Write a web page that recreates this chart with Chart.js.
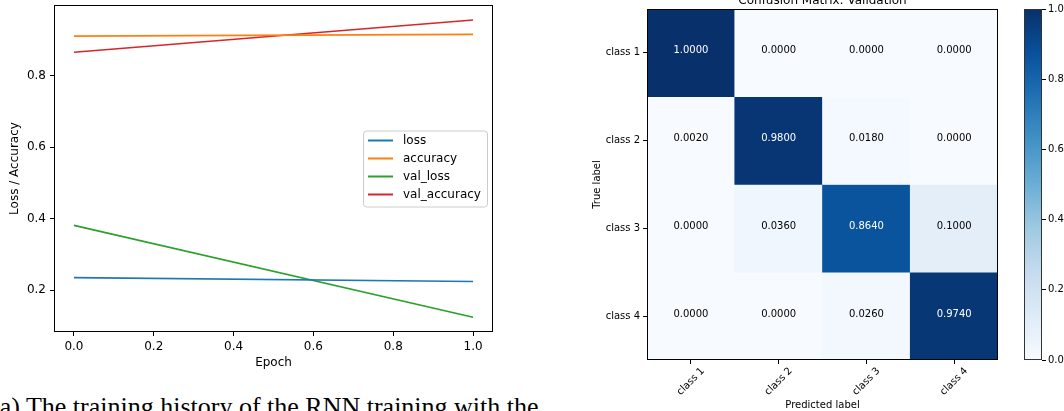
<!DOCTYPE html>
<html>
<head>
<meta charset="utf-8">
<script src="https://cdn.jsdelivr.net/npm/chart.js@4.4.0/dist/chart.umd.min.js"></script>
<style>
body { margin: 0; background: #fff; width: 1064px; height: 411px; overflow: hidden; position: relative; }
canvas { position: absolute; top: 0; }
#caption { position: absolute; left: -9px; top: 392px; font-family: "Liberation Serif", serif; font-size: 26px; color: #000; white-space: nowrap; }
</style>
</head>
<body>
<canvas id="hist" width="520" height="380" style="left:0px"></canvas>
<canvas id="cm" width="440" height="411" style="left:570px"></canvas>
<canvas id="cbar" width="54" height="411" style="left:1010px"></canvas>
<div id="caption">(a) The training history of the RNN training with the</div>
<script>
// training history
const epochs = [0, 1];
const loss = [0.235, 0.224];
const accuracy = [0.910, 0.915];
const valLoss = [0.381, 0.124];
const valAccuracy = [0.865, 0.955];
const epochTicks = [0, 0.2, 0.4, 0.6, 0.8, 1.0];
const histTicks = [0.2, 0.4, 0.6, 0.8];

// confusion matrix (rows = true label, cols = predicted)
const classes = ['class 1', 'class 2', 'class 3', 'class 4'];
const cmRow1 = [1.0000, 0.0000, 0.0000, 0.0000];
const cmRow2 = [0.0020, 0.9800, 0.0180, 0.0000];
const cmRow3 = [0.0000, 0.0360, 0.8640, 0.1000];
const cmRow4 = [0.0000, 0.0000, 0.0260, 0.9740];
const cmRows = [cmRow1, cmRow2, cmRow3, cmRow4];
const cbarTicks = [0, 0.2, 0.4, 0.6, 0.8, 1.0];

Chart.defaults.font.family = 'DejaVu Sans';
Chart.defaults.color = '#000';
Chart.defaults.animation = false;

// matplotlib "Blues"
const bluesStops = ['#f7fbff', '#deebf7', '#c6dbef', '#9ecae1', '#6baed6', '#4292c6', '#2171b5', '#08519c', '#08306b'];
function hexRgb(h) {
  return [1, 3, 5].map(i => parseInt(h.substr(i, 2), 16));
}
function blues(v) {
  const t = Math.min(Math.max(v, 0), 1) * (bluesStops.length - 1);
  const i = Math.min(Math.floor(t), bluesStops.length - 2);
  const f = t - i;
  const a = hexRgb(bluesStops[i]), b = hexRgb(bluesStops[i + 1]);
  const c = a.map((x, k) => Math.round(x + (b[k] - x) * f));
  return 'rgb(' + c.join(',') + ')';
}

function fixTicks(list) {
  return s => { s.ticks = list.map(v => ({ value: v })); };
}
function fixSize(prop, size) {
  return s => {
    s[prop] = size;
    s.paddingTop = 0; s.paddingBottom = 0; s.paddingLeft = 0; s.paddingRight = 0;
  };
}

const frame = {
  id: 'frame',
  afterDraw(chart, args, opts) {
    const { ctx, chartArea: a } = chart;
    ctx.save();
    ctx.strokeStyle = opts.color || '#000';
    ctx.lineWidth = 1;
    ctx.strokeRect(Math.round(a.left) + 0.5, Math.round(a.top) + 0.5,
      Math.round(a.right - a.left) - 1, Math.round(a.bottom - a.top) - 1);
    ctx.restore();
  }
};

// legend box in the middle right of the plot
const legendBox = {
  id: 'legendBox',
  afterDatasetsDraw(chart) {
    const { ctx, chartArea: a } = chart;
    const sets = chart.data.datasets;
    const w = 124, rowH = 18, h = sets.length * rowH + 4;
    const x0 = a.right - 6 - w;
    const y0 = (a.top + a.bottom) / 2 - h / 2;
    ctx.save();
    ctx.beginPath();
    if (ctx.roundRect) ctx.roundRect(x0 + 0.5, y0 + 0.5, w, h, 3);
    else ctx.rect(x0 + 0.5, y0 + 0.5, w, h);
    ctx.fillStyle = 'rgba(255,255,255,0.8)';
    ctx.fill();
    ctx.strokeStyle = '#cccccc';
    ctx.lineWidth = 1;
    ctx.stroke();
    ctx.font = '12px "DejaVu Sans"';
    ctx.textBaseline = 'middle';
    sets.forEach((ds, i) => {
      const y = y0 + 10 + i * rowH;
      ctx.strokeStyle = ds.borderColor;
      ctx.lineWidth = 2;
      ctx.beginPath();
      ctx.moveTo(x0 + 5, y);
      ctx.lineTo(x0 + 30, y);
      ctx.stroke();
      ctx.fillStyle = '#000';
      ctx.fillText(ds.label, x0 + 40, y);
    });
    ctx.restore();
  }
};

function series(label, values, color) {
  return {
    label: label,
    data: epochs.map((e, i) => ({ x: e, y: values[i] })),
    borderColor: color,
    backgroundColor: color,
    borderWidth: 1.6,
    pointRadius: 0,
    tension: 0
  };
}

new Chart(document.getElementById('hist'), {
  type: 'line',
  data: {
    datasets: [
      series('loss', loss, '#1f77b4'),
      series('accuracy', accuracy, '#ff7f0e'),
      series('val_loss', valLoss, '#2ca02c'),
      series('val_accuracy', valAccuracy, '#d62728')
    ]
  },
  options: {
    responsive: false,
    layout: { padding: { top: 5, right: 27, left: 0, bottom: 0 } },
    plugins: { legend: { display: false }, tooltip: { enabled: false } },
    scales: {
      x: {
        type: 'linear', min: -0.05, max: 1.05,
        afterBuildTicks: fixTicks(epochTicks),
        afterFit: fixSize('height', 48),
        ticks: { font: { size: 12 }, padding: 4, callback: v => v.toFixed(1) },
        grid: { drawOnChartArea: false, drawTicks: true, tickLength: 4, color: '#000' },
        border: { display: false },
        title: { display: true, text: 'Epoch', font: { size: 12 }, padding: { top: 0, bottom: 10 } }
      },
      y: {
        type: 'linear', min: 0.083, max: 0.997,
        afterBuildTicks: fixTicks(histTicks),
        afterFit: fixSize('width', 54),
        ticks: { font: { size: 12 }, padding: 4, callback: v => v.toFixed(1) },
        grid: { drawOnChartArea: false, drawTicks: true, tickLength: 4, color: '#000' },
        border: { display: false },
        title: { display: true, text: 'Loss / Accuracy', font: { size: 12 }, padding: { top: 8, bottom: 0 } }
      }
    }
  },
  plugins: [frame, legendBox]
});

// confusion matrix
const cellText = {
  id: 'cellText',
  afterDatasetsDraw(chart) {
    const { ctx } = chart;
    ctx.save();
    ctx.font = '10px "DejaVu Sans"';
    ctx.textAlign = 'center';
    ctx.textBaseline = 'middle';
    chart.data.datasets.forEach((ds, i) => {
      chart.getDatasetMeta(i).data.forEach((el, j) => {
        const p = el.getProps(['x', 'y', 'base'], true);
        const v = cmRows[i][j];
        ctx.fillStyle = v > 0.5 ? '#ffffff' : '#000000';
        ctx.fillText(v.toFixed(4), p.x, (p.y + p.base) / 2 - 2);
      });
    });
    ctx.restore();
  }
};

const cmDecor = {
  id: 'cmDecor',
  afterDraw(chart) {
    const { ctx, chartArea: a } = chart;
    const xs = chart.scales.x;
    ctx.save();
    ctx.fillStyle = '#000';
    ctx.font = '10px "DejaVu Sans"';
    ctx.textAlign = 'center';
    ctx.textBaseline = 'middle';
    classes.forEach((c, i) => {
      const x = xs.getPixelForTick(i);
      ctx.save();
      ctx.translate(x, a.bottom + 21.5);
      ctx.rotate(-Math.PI / 4);
      ctx.fillText(c, 0, 0);
      ctx.restore();
    });
    ctx.font = '12px "DejaVu Sans"';
    ctx.textBaseline = 'alphabetic';
    ctx.fillText('Confusion Matrix: Validation', (a.left + a.right) / 2, a.top - 5.5);
    ctx.restore();
  }
};

new Chart(document.getElementById('cm'), {
  type: 'bar',
  data: {
    labels: classes,
    datasets: cmRows.map((row, i) => ({
      label: classes[i],
      data: row.map(() => [i, i + 1]),
      backgroundColor: row.map(v => blues(v)),
      borderWidth: 0,
      grouped: false,
      barPercentage: 1,
      categoryPercentage: 1
    }))
  },
  options: {
    responsive: false,
    layout: { padding: { top: 9, right: 12, left: 0, bottom: 0 } },
    plugins: { legend: { display: false }, tooltip: { enabled: false } },
    scales: {
      x: {
        type: 'category',
        afterFit: fixSize('height', 51),
        ticks: { display: false },
        grid: { offset: false, drawOnChartArea: false, drawTicks: true, tickLength: 4, color: '#000' },
        border: { display: false },
        title: { display: true, text: 'Predicted label', font: { size: 10 }, padding: { top: 0, bottom: 0 } }
      },
      y: {
        type: 'linear', min: 0, max: 4, reverse: true,
        afterBuildTicks: fixTicks([0.5, 1.5, 2.5, 3.5]),
        afterFit: fixSize('width', 77),
        ticks: { font: { size: 10 }, padding: 3, callback: v => classes[Math.floor(v)] },
        grid: { drawOnChartArea: false, drawTicks: true, tickLength: 4, color: '#000' },
        border: { display: false },
        title: { display: true, text: 'True label', font: { size: 10 }, padding: { top: 21, bottom: 0 } }
      }
    }
  },
  plugins: [cellText, cmDecor, frame]
});

// colorbar
new Chart(document.getElementById('cbar'), {
  type: 'bar',
  data: {
    labels: [''],
    datasets: [{
      data: [[cbarTicks[0], cbarTicks[cbarTicks.length - 1]]],
      borderWidth: 0,
      barPercentage: 1,
      categoryPercentage: 1,
      backgroundColor: c => {
        const a = c.chart.chartArea;
        if (!a) return bluesStops[0];
        const g = c.chart.ctx.createLinearGradient(0, a.bottom, 0, a.top);
        bluesStops.forEach((col, i) => g.addColorStop(i / (bluesStops.length - 1), col));
        return g;
      }
    }]
  },
  options: {
    responsive: false,
    layout: { padding: { top: 9, right: 0, left: 14, bottom: 51 } },
    plugins: { legend: { display: false }, tooltip: { enabled: false }, frame: { color: '#333' } },
    scales: {
      x: { display: false },
      y: {
        position: 'right', min: 0, max: 1,
        afterBuildTicks: fixTicks(cbarTicks),
        afterFit: fixSize('width', 22),
        ticks: { font: { size: 10 }, padding: 2, callback: v => v.toFixed(1) },
        grid: { drawOnChartArea: false, drawTicks: true, tickLength: 4, color: '#000' },
        border: { display: false }
      }
    }
  },
  plugins: [frame]
});
</script>
</body>
</html>
